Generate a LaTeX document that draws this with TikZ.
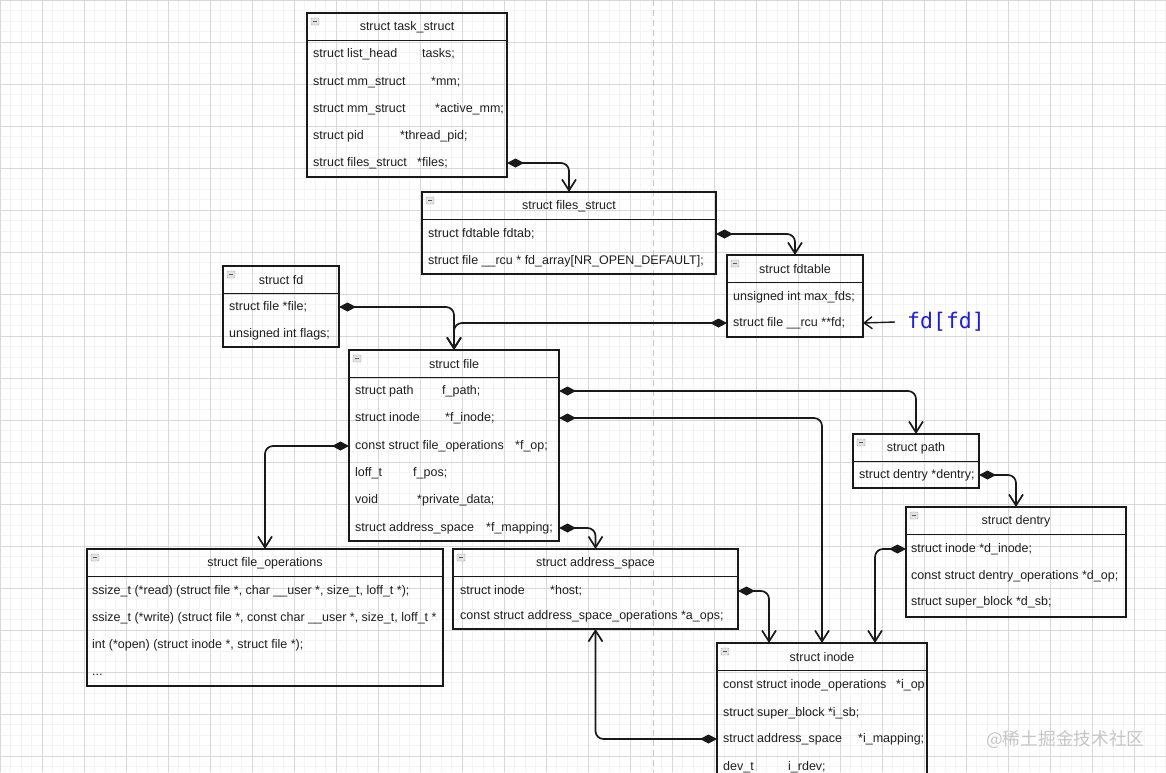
\documentclass[tikz,border=0pt]{standalone}
\usepackage{fontspec}
\setmainfont{Liberation Sans}
\newfontfamily\fdmono{DejaVu Sans Mono}
\newfontfamily\cjkfont{Noto Sans CJK SC}
\usetikzlibrary{arrows.meta, fit}
\definecolor{fdblue}{RGB}{30,30,215}
\definecolor{gridmaj}{RGB}{216,216,216}
\definecolor{gridmin}{RGB}{244,244,244}

% first column of a field, padded to a fixed width
\newcommand{\fcol}[2]{\makebox[#1pt][l]{#2}}

% struct box: name, left, top, right, bottom, title
\newcommand{\umlbox}[6]{%
    \node[structbox, fit={(#2,#3) (#4,#5)}] (#1) {};
    \draw[boxrule] ([yshift=-27.5pt]#1.north west) -- ([yshift=-27.5pt]#1.north east);
    \node[boxtitle] (#1-t) at ([yshift=-14pt]#1.north) {#6};
    \node[minusicon] (#1-m) at ([xshift=8pt,yshift=-8.5pt]#1.north west) {};
}

\tikzset{
    common settings/.style={
        x=1pt, y=-1pt,
        font=\fontsize{12.5}{15}\selectfont,
        text=black!88
    },
    structbox/.style={draw=black!90, line width=1.4pt, inner sep=0pt, outer sep=0pt},
    boxrule/.style={draw=black!90, line width=1.4pt},
    boxtitle/.style={inner sep=0pt},
    field/.style={anchor=west, inner sep=0pt},
    minusicon/.style={draw=gray!75, fill=gray!22, minimum width=8pt, minimum height=7pt,
        inner sep=0pt, rounded corners=0.8pt,
        path picture={\draw[gray!70!black, line width=0.8pt]
            ([xshift=1.8pt]path picture bounding box.west) -- ([xshift=-1.8pt]path picture bounding box.east);}},
    link/.style={draw=black!90, line width=1.7pt, rounded corners=8pt,
        {Diamond[length=17pt, width=9pt]}-{Straight Barb[length=11pt, width=14pt]}},
    pointer/.style={draw=black!90, line width=1.4pt, -{Straight Barb[length=8pt, width=12pt]}},
    gridminor/.style={draw=gridmin, line width=0.6pt},
    gridmajor/.style={draw=gridmaj, line width=0.8pt},
    sepline/.style={draw=gray!45, line width=1pt, dash pattern=on 6pt off 4pt}
}

\begin{document}
\begin{tikzpicture}[common settings]

    \useasboundingbox (0,0) rectangle (1166,772);
    \clip (0,0) rectangle (1166,772);
    \fill[white] (0,0) rectangle (1166,772);

    % Background grid and divider
    \draw[gridminor, step=10.5pt] (0,772) grid (1166,0);
    \draw[gridmajor, step=42pt] (0,772) grid (1166,0);
    \draw[sepline] (653,0) -- (653,772);

    % task_struct
    \umlbox{ts}{307}{13}{507}{177}{struct task\_struct}
    \node[field] (ts-tasks) at (313,54) {\fcol{109}{struct list\_head}tasks;};
    \node[field] (ts-mm) at (313,82) {\fcol{118}{struct mm\_struct}*mm;};
    \node[field] (ts-amm) at (313,109) {\fcol{122}{struct mm\_struct}*active\_mm;};
    \node[field] (ts-pid) at (313,136) {\fcol{87}{struct pid}*thread\_pid;};
    \node[field] (ts-files) at (313,163) {\fcol{104}{struct files\_struct}*files;};

    % files_struct
    \umlbox{fs}{422}{192}{716}{274}{struct files\_struct}
    \node[field] (fs-fdtab) at (428,234) {struct fdtable fdtab;};
    \node[field] (fs-arr) at (428,261) {struct file \_\_rcu * fd\_array[NR\_OPEN\_DEFAULT];};

    % fdtable
    \umlbox{fdt}{727}{255}{863}{337}{struct fdtable}
    \node[field] (fdt-max) at (733,297) {unsigned int max\_fds;};
    \node[field] (fdt-fd) at (733,323) {struct file \_\_rcu **fd;};

    % fd
    \umlbox{fd}{223}{266}{339}{347}{struct fd}
    \node[field] (fd-file) at (229,307) {struct file *file;};
    \node[field] (fd-flags) at (229,334) {unsigned int flags;};

    % file
    \umlbox{file}{349}{350}{559}{541}{struct file}
    \node[field] (file-path) at (355,391) {\fcol{87}{struct path}f\_path;};
    \node[field] (file-inode) at (355,418) {\fcol{90}{struct inode}*f\_inode;};
    \node[field] (file-fop) at (355,446) {\fcol{160}{const struct file\_operations}*f\_op;};
    \node[field] (file-pos) at (355,473) {\fcol{58}{loff\_t}f\_pos;};
    \node[field] (file-priv) at (355,500) {\fcol{62}{void}*private\_data;};
    \node[field] (file-map) at (355,528) {\fcol{131}{struct address\_space}*f\_mapping;};

    % file_operations
    \umlbox{fops}{87}{549}{443}{686}{struct file\_operations}
    \node[field] (fops-read) at (92,591) {ssize\_t (*read) (struct file *, char \_\_user *, size\_t, loff\_t *);};
    \node[field] (fops-write) at (92,618) {ssize\_t (*write) (struct file *, const char \_\_user *, size\_t, loff\_t *};
    \node[field] (fops-open) at (92,645) {int (*open) (struct inode *, struct file *);};
    \node[field] (fops-more) at (92,675) {...};

    % address_space
    \umlbox{as}{453}{549}{738}{629}{struct address\_space}
    \node[field] (as-host) at (460,591) {\fcol{90}{struct inode}*host;};
    \node[field] (as-aops) at (460,616) {const struct address\_space\_operations *a\_ops;};

    % path
    \umlbox{path}{853}{434}{979}{488}{struct path}
    \node[field] (path-dentry) at (859,475) {struct dentry *dentry;};

    % dentry
    \umlbox{dentry}{906}{507}{1126}{617}{struct dentry}
    \node[field] (dentry-inode) at (911,549) {struct inode *d\_inode;};
    \node[field] (dentry-op) at (911,576) {const struct dentry\_operations *d\_op;};
    \node[field] (dentry-sb) at (911,602) {struct super\_block *d\_sb;};

    % inode (runs off the bottom)
    \umlbox{inode}{717}{643}{927}{800}{struct inode}
    \node[field] (inode-op) at (723,685) {\fcol{173}{const struct inode\_operations}*i\_op};
    \node[field] (inode-sb) at (723,713) {struct super\_block *i\_sb;};
    \node[field] (inode-map) at (723,739) {\fcol{135}{struct address\_space}*i\_mapping;};
    \node[field] (inode-rdev) at (723,767) {\fcol{65}{dev\_t}i\_rdev;};

    % Links between structs
    \draw[link] (ts.east |- ts-files) -| (fs.north);
    \draw[link] (fs.east |- fs-fdtab) -| (fdt.north);
    \draw[link] (fd.east |- fd-file) -| (file.north);
    \draw[link] (fdt.west |- fdt-fd) -| (file.north);
    \draw[link] (file.east |- file-path) -| (path.north);
    \draw[link] (file.east |- file-inode) -| (inode.north);
    \draw[link] (file.west |- file-fop) -| (fops.north);
    \draw[link] (file.east |- file-map) -| (as.north);
    \draw[link] (path.east |- path-dentry) -| (dentry.north);
    \draw[link] (dentry.west |- dentry-inode) -| ([xshift=53pt]inode.north);
    \draw[link] (as.east |- as-host) -| ([xshift=-53pt]inode.north);
    \draw[link] (inode.west |- inode-map) -| (as.south);

    % fd index note
    \node[anchor=west, inner sep=0pt, text=fdblue, font=\fdmono\fontsize{21.5}{24}\selectfont] (fdidx) at (907,322) {fd[fd]};
    \draw[pointer] ([xshift=-12pt]fdidx.west) -- (fdt.east |- fdt-fd);

    % watermark
    \node[anchor=west, inner sep=0pt, text=gray!45, font=\cjkfont\fontsize{17.7}{20}\selectfont] (wmark) at (986,740) {@稀土掘金技术社区};

\end{tikzpicture}
\end{document}
